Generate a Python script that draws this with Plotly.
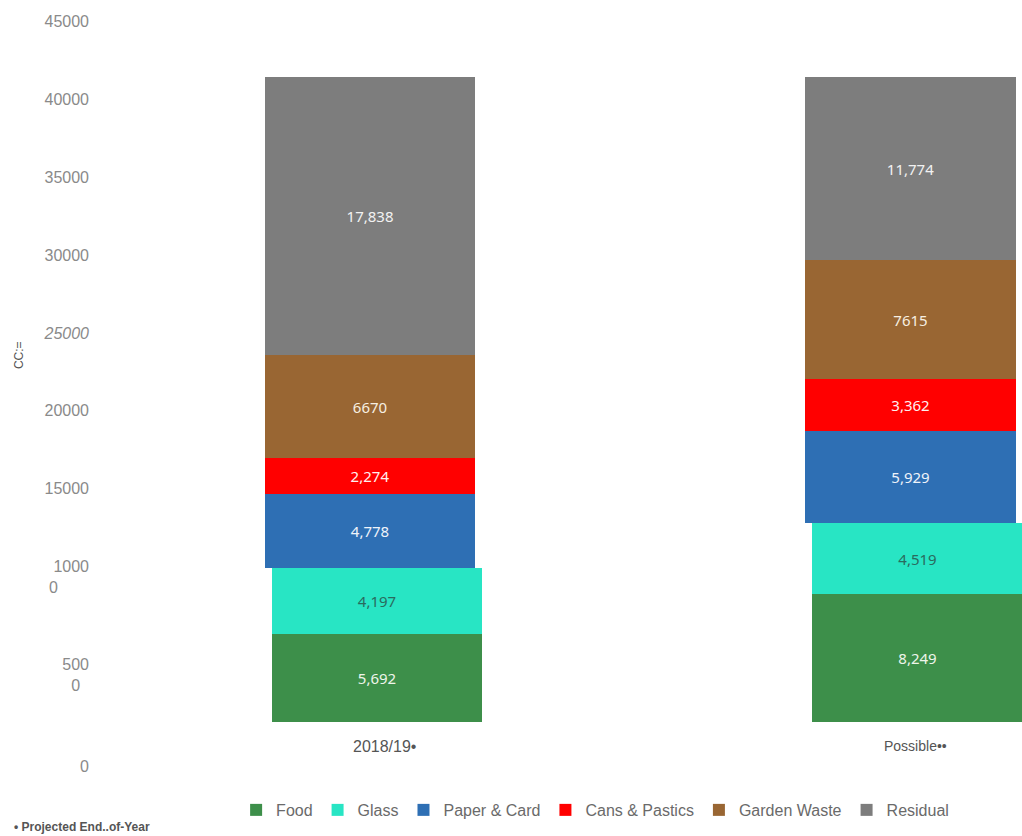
import plotly.graph_objects as go

# ---- data ----
categories = ["2018/19•", "Possible••"]
series_names = ["Food", "Glass", "Paper & Card", "Cans & Pastics", "Garden Waste", "Residual"]
food = [5692, 8249]
glass = [4197, 4519]
paper = [4778, 5929]
cans = [2274, 3362]
garden = [6670, 7615]
residual = [17838, 11774]
food_labels = ["5,692", "8,249"]
glass_labels = ["4,197", "4,519"]
paper_labels = ["4,778", "5,929"]
cans_labels = ["2,274", "3,362"]
garden_labels = ["6670", "7615"]
residual_labels = ["17,838", "11,774"]

# y tick labels as they appear in the picture (positions read from it)
ytick_vals = [-2830, 3020, 9320, 15000, 20000, 25000, 30000, 35000, 40000, 45000]
ytick_text = ["0", "500<br>0" + "&nbsp;" * 2, "1000<br>0" + "&nbsp;" * 7, "15000", "20000",
              "<i>25000</i>", "30000", "35000", "40000", "45000"]

colors = ["#3d8f4a", "#28e5c4", "#2e6fb4", "#ff0000", "#996633", "#7d7d7d"]
text_colors = ["#eef5ea", "#2a6b5e", "#eef3fa", "#fff0f0", "#f7efe2", "#f2f2f2"]
values = [food, glass, paper, cans, garden, residual]
labels = [food_labels, glass_labels, paper_labels, cans_labels, garden_labels, residual_labels]

BAR_W = 0.39
fig = go.Figure()
for i, (name, vals, labs) in enumerate(zip(series_names, values, labels)):
    # the two lowest segments appear shifted slightly right in the reference
    off = -BAR_W / 2 + (0.013 if i < 2 else 0.0)
    fig.add_trace(go.Bar(
        x=categories, y=vals, name=name,
        width=BAR_W, offset=off,
        marker=dict(color=colors[i], line=dict(width=0)),
        text=labs, textposition="inside", insidetextanchor="middle",
        textangle=0, constraintext="none",
        textfont=dict(family="Noto Sans", size=15, color=text_colors[i]),
        hoverinfo="skip",
    ))

fig.update_layout(
    barmode="stack",
    width=1022, height=836,
    margin=dict(l=100, r=0, t=20, b=64),
    paper_bgcolor="white", plot_bgcolor="white",
    font=dict(family="Liberation Sans, Arial, sans-serif", color="#777777"),
    showlegend=True,
    legend=dict(orientation="h", x=0.537, xanchor="center", y=-0.0505, yanchor="middle",
                font=dict(size=16, color="#6a6a6a"), itemwidth=30, traceorder="normal",
                bgcolor="rgba(0,0,0,0)"),
    bargap=0.0,
)
fig.update_xaxes(type="category", range=[-0.4995, 1.2063], showticklabels=False,
                 showgrid=False, zeroline=False, showline=False, ticks="")
fig.update_yaxes(range=[-3200, 45100], tickmode="array", tickvals=ytick_vals, ticktext=ytick_text,
                 tickfont=dict(size=16, color="#8a8a8a"), showgrid=False, zeroline=False,
                 showline=False, ticks="", ticklabelstandoff=10)

# category labels under the bars
cat_shift = [15, 5]
cat_size = [16, 14]
for c, s, fs in zip(categories, cat_shift, cat_size):
    fig.add_annotation(x=c, y=0, xref="x", yref="y", text=c, showarrow=False,
                       yanchor="top", yshift=-14, xshift=s,
                       font=dict(size=fs, color="#555555"))

# y-axis title (garbled in the reference)
fig.add_annotation(x=-0.0975, y=0.5545, xref="paper", yref="paper", text="CC:=",
                   textangle=-90, showarrow=False, font=dict(size=12, color="#555555"))
# footnote
fig.add_annotation(x=-0.0954, y=-0.073, xref="paper", yref="paper", xanchor="left", yanchor="middle",
                   text="<b>• Projected End..of-Year</b>", showarrow=False,
                   font=dict(size=12, color="#555555"))

fig.write_html("out.html")
